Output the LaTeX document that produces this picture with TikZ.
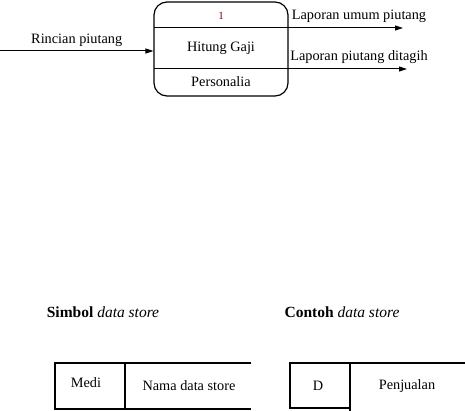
\documentclass[tikz,border=0pt]{standalone}
\usepackage{fontspec}
\setmainfont{Liberation Serif}
\usetikzlibrary{arrows.meta, positioning}

\begin{document}
\begin{tikzpicture}[x=1pt, y=-1pt, font=\fontsize{14.3}{16}\selectfont,
    flow/.style={line width=1pt, -{Triangle[length=8pt,width=5pt]}},
    store/.style={line width=1.6pt}]
    \useasboundingbox (0,0) rectangle (465,411);
    % Process box
    \node[draw, line width=1.2pt, rounded corners=13pt, minimum width=134pt, minimum height=94pt, inner sep=0pt] (proc) at (221,49) {};
    \coordinate (d1w) at (154,28); \coordinate (d1e) at (288,28);
    \coordinate (d2w) at (154,69); \coordinate (d2e) at (288,69);
    \draw[line width=1pt] (d1w) -- (d1e);
    \draw[line width=1pt] (d2w) -- (d2e);
    \node[text=red!55!black, font=\fontsize{11}{12}\selectfont] (num) at (221,16) {1};
    \node (name) at (221,48) {Hitung Gaji};
    \node (unit) at (221,82) {Personalia};
    % Input flow
    \coordinate (src) at (0,51);
    \draw[flow] (src) -- (proc.west |- src)
        node[midway, above=1pt] (inlabel) {Rincian piutang};
    % Output flows
    \coordinate (out1) at (403,28);
    \coordinate (out2) at (407,69);
    \draw[flow] (d1e) -- (out1);
    \draw[flow] (d2e) -- (out2);
    \node (outlabel1) at (359,16) {Laporan umum piutang};
    \node (outlabel2) at (359,57) {Laporan piutang ditagih};
    % Headings
    \node[font=\fontsize{15.5}{17}\selectfont] (symtitle) at (103,312) {\textbf{Simbol} \textit{data store}};
    \node[font=\fontsize{15.5}{17}\selectfont] (extitle)  at (342,312) {\textbf{Contoh} \textit{data store}};
    % Data store symbol
    \draw[store] (251,363) -- (55,363) -- (55,409) -- (251,409);
    \draw[store] (125,363) -- (125,409);
    \node (medi) at (86,383) {Medi};
    \node (storename) at (189,386) {Nama data store};
    % Data store example
    \draw[store] (465,363) -- (290,363) -- (290,408) -- (350,408);
    \draw[store] (350,363) -- (350,411);
    \node (storeid) at (318,386) {D};
    \node (storesale) at (407,386) {Penjualan};
\end{tikzpicture}
\end{document}
